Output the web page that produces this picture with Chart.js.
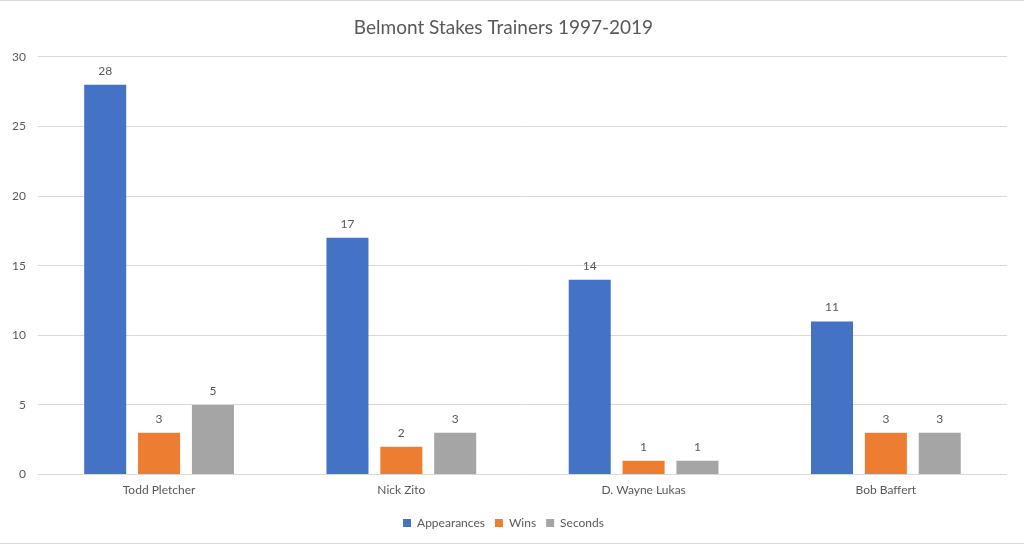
<!doctype html>
<html><head>
<meta charset="utf-8">
<title>Belmont Stakes Trainers</title>
<script src="https://cdn.jsdelivr.net/npm/chart.js"></script>
<style>
  html, body { margin: 0; padding: 0; background: #fff; }
  #wrap { width: 1024px; height: 545px; position: relative; }
</style>
</head>
<body>
<div id="wrap"><canvas id="myChart"></canvas></div>
<script>
// chart data
const trainers = ['Todd Pletcher', 'Nick Zito', 'D. Wayne Lukas', 'Bob Baffert'];
const appearances = [28, 17, 14, 11];
const wins = [3, 2, 1, 3];
const seconds = [5, 3, 1, 3];
const yTicks = [0, 5, 10, 15, 20, 25, 30];

const textColor = '#595959';
const gridColor = '#D9D9D9';

// numbers above the bars
const valueLabels = {
  id: 'valueLabels',
  afterDatasetsDraw(chart) {
    const ctx = chart.ctx;
    ctx.save();
    ctx.font = '12px Lato, "Open Sans", sans-serif';
    ctx.fillStyle = textColor;
    ctx.textAlign = 'center';
    ctx.textBaseline = 'bottom';
    chart.data.datasets.forEach((ds, i) => {
      chart.getDatasetMeta(i).data.forEach((bar, j) => {
        ctx.fillText(ds.data[j], bar.x, bar.y - 8);
      });
    });
    ctx.restore();
  }
};

// frame lines at top and bottom of the picture
const frame = {
  id: 'frame',
  beforeDraw(chart) {
    const ctx = chart.ctx;
    ctx.save();
    ctx.strokeStyle = gridColor;
    ctx.lineWidth = 1;
    ctx.beginPath();
    ctx.moveTo(0, 0.5); ctx.lineTo(chart.width, 0.5);
    ctx.moveTo(0, 543.5); ctx.lineTo(chart.width, 543.5);
    ctx.stroke();
    ctx.restore();
  }
};

const ctx = document.getElementById('myChart');
new Chart(ctx, {
  type: 'bar',
  data: {
    labels: trainers,
    datasets: [
      { label: 'Appearances', data: appearances, backgroundColor: '#4472C4' },
      { label: 'Wins', data: wins, backgroundColor: '#ED7D31' },
      { label: 'Seconds', data: seconds, backgroundColor: '#A5A5A5' }
    ]
  },
  options: {
    responsive: true,
    maintainAspectRatio: false,
    animation: false,
    layout: { padding: { left: 0, right: 17, top: 4, bottom: 6 } },
    datasets: {
      bar: { categoryPercentage: 0.667, barPercentage: 0.78 }
    },
    plugins: {
      title: {
        display: true,
        text: 'Belmont Stakes Trainers 1997-2019',
        color: textColor,
        font: { family: 'Lato, "Open Sans", sans-serif', size: 19, weight: 'normal' },
        padding: { top: 12, bottom: 18 }
      },
      legend: {
        position: 'bottom',
        labels: {
          color: textColor,
          font: { family: 'Lato, "Open Sans", sans-serif', size: 12 },
          boxWidth: 8,
          boxHeight: 8,
          padding: 10
        }
      },
      tooltip: { enabled: false }
    },
    scales: {
      x: {
        grid: { display: false },
        border: { display: false },
        afterFit(axis) { axis.height += 10; },
        ticks: {
          color: textColor,
          font: { family: 'Lato, "Open Sans", sans-serif', size: 12 },
          padding: 0
        }
      },
      y: {
        min: 0,
        max: 30,
        afterBuildTicks(axis) { axis.ticks = yTicks.map(v => ({ value: v })); },
        grid: { color: gridColor, drawTicks: false },
        border: { display: false },
        ticks: {
          color: textColor,
          font: { family: 'Lato, "Open Sans", sans-serif', size: 12 },
          padding: 12
        }
      }
    }
  },
  plugins: [valueLabels, frame]
});
</script>
</body></html>
